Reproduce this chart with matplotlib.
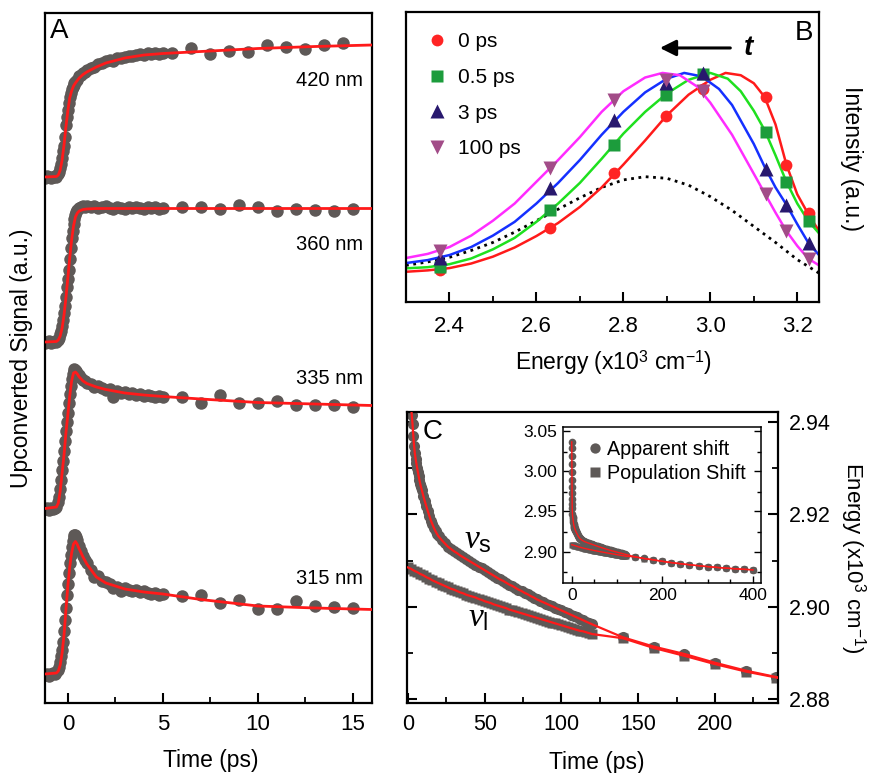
import matplotlib
matplotlib.use("Agg")
import matplotlib.pyplot as plt
from matplotlib.lines import Line2D
from matplotlib.ticker import MultipleLocator, FormatStrFormatter

plt.rcParams['font.family'] = ['Liberation Sans', 'DejaVu Sans']
plt.rcParams['mathtext.fontset'] = 'custom'
plt.rcParams['mathtext.rm'] = 'Liberation Sans'
plt.rcParams['mathtext.it'] = 'Liberation Serif:italic'
plt.rcParams['mathtext.bf'] = 'Liberation Sans:bold'
plt.rcParams['axes.linewidth'] = 1.6

GRAY = '#5e5957'
RED = '#ff1a1a'

# ---------------- panel A: upconversion traces (offset, a.u.) ----------------
t_dense = [-1.2, -1.1, -1.0, -0.9, -0.8, -0.7, -0.6, -0.5, -0.45, -0.4, -0.35, -0.3,
           -0.25, -0.2, -0.15, -0.1, -0.05, 0.0, 0.05, 0.1, 0.15, 0.2, 0.25, 0.3,
           0.35, 0.4, 0.45, 0.5, 0.6, 0.7, 0.8, 0.9, 1.0, 1.2, 1.4, 1.6, 1.8, 2.0,
           2.2, 2.4, 2.6, 2.8, 3.0, 3.2, 3.4, 3.6, 3.8, 4.0, 4.2, 4.4, 4.6, 4.8, 5.0]
sig_420 = [5.25, 5.27, 5.26, 5.25, 5.26, 5.27, 5.26, 5.29, 5.31, 5.35, 5.39, 5.45,
           5.52, 5.57, 5.66, 5.78, 5.86, 5.93, 6.00, 6.06, 6.10, 6.14, 6.16, 6.18,
           6.20, 6.21, 6.22, 6.23, 6.27, 6.28, 6.30, 6.31, 6.33, 6.35, 6.36, 6.39,
           6.40, 6.42, 6.43, 6.42, 6.45, 6.45, 6.46, 6.47, 6.47, 6.48, 6.49, 6.48,
           6.50, 6.49, 6.50, 6.49, 6.50]
sig_360 = [3.60, 3.61, 3.62, 3.60, 3.61, 3.62, 3.61, 3.63, 3.65, 3.69, 3.72, 3.77,
           3.83, 3.90, 3.97, 4.06, 4.16, 4.24, 4.33, 4.44, 4.55, 4.65, 4.72, 4.79,
           4.84, 4.88, 4.91, 4.93, 4.95, 4.96, 4.97, 4.96, 4.97, 4.96, 4.97, 4.95,
           4.96, 4.97, 4.95, 4.94, 4.96, 4.95, 4.94, 4.96, 4.95, 4.96, 4.95, 4.94,
           4.96, 4.95, 4.96, 4.94, 4.95]
sig_335 = [1.94, 1.95, 1.93, 1.95, 1.94, 1.95, 1.96, 2.01, 2.06, 2.14, 2.23, 2.33,
           2.42, 2.52, 2.62, 2.72, 2.81, 2.90, 3.00, 3.09, 3.17, 3.24, 3.29, 3.32,
           3.34, 3.33, 3.32, 3.30, 3.28, 3.25, 3.23, 3.22, 3.20, 3.19, 3.16, 3.17,
           3.15, 3.13, 3.14, 3.06, 3.12, 3.10, 3.11, 3.09, 3.10, 3.08, 3.09, 3.07,
           3.08, 3.07, 3.06, 3.07, 3.06]
sig_315 = [0.28, 0.29, 0.27, 0.29, 0.30, 0.29, 0.31, 0.33, 0.36, 0.41, 0.47, 0.53,
           0.61, 0.72, 0.83, 0.95, 1.08, 1.19, 1.30, 1.40, 1.48, 1.56, 1.62, 1.66,
           1.68, 1.68, 1.66, 1.63, 1.57, 1.52, 1.47, 1.43, 1.40, 1.33, 1.26, 1.27,
           1.22, 1.21, 1.19, 1.15, 1.16, 1.12, 1.15, 1.13, 1.12, 1.13, 1.11, 1.12,
           1.10, 1.09, 1.10, 1.08, 1.09]

t_sparse_420 = [5.5, 6.5, 7.5, 8.5, 9.5, 10.5, 11.5, 12.5, 13.5, 14.5]
t_sparse = [6, 7, 8, 9, 10, 11, 12, 13, 14, 15]
sparse_420 = [6.50, 6.55, 6.49, 6.52, 6.51, 6.58, 6.56, 6.54, 6.58, 6.60]
sparse_360 = [4.96, 4.96, 4.94, 4.98, 4.96, 4.92, 4.94, 4.93, 4.92, 4.94]
sparse_335 = [3.06, 3.00, 3.08, 3.00, 3.00, 3.02, 2.98, 2.98, 2.98, 2.96]
sparse_315 = [1.07, 1.08, 1.00, 1.03, 0.94, 0.94, 1.02, 0.97, 0.96, 0.95]

t_fit = [-1.2, -0.6, -0.5, -0.4, -0.3, -0.2, -0.1, 0.0, 0.1, 0.2, 0.3, 0.4, 0.5,
         0.6, 0.8, 1.0, 1.5, 2.0, 3.0, 4.0, 5.0, 7.0, 10.0, 13.0, 16.0]
fit_420 = [5.26, 5.265, 5.28, 5.33, 5.43, 5.58, 5.76, 5.92, 6.05, 6.12, 6.17, 6.20,
           6.225, 6.25, 6.285, 6.31, 6.36, 6.40, 6.45, 6.48, 6.495, 6.515, 6.545,
           6.565, 6.58]
fit_360 = [3.61, 3.615, 3.63, 3.67, 3.75, 3.88, 4.05, 4.25, 4.45, 4.63, 4.77, 4.86,
           4.90, 4.92, 4.935, 4.94, 4.945, 4.945, 4.945, 4.945, 4.945, 4.945, 4.945,
           4.945, 4.945]
fit_335 = [1.945, 1.96, 2.0, 2.12, 2.30, 2.48, 2.70, 2.88, 3.07, 3.22, 3.30, 3.31,
           3.29, 3.26, 3.22, 3.195, 3.16, 3.135, 3.10, 3.08, 3.065, 3.04, 3.005,
           2.99, 2.975]
fit_315 = [0.29, 0.30, 0.32, 0.38, 0.50, 0.68, 0.93, 1.17, 1.36, 1.50, 1.59, 1.615,
           1.585, 1.54, 1.46, 1.39, 1.26, 1.20, 1.14, 1.11, 1.09, 1.035, 0.97, 0.95,
           0.935]

traces = [
    ('420 nm', sig_420, t_sparse_420, sparse_420, fit_420, 6.22),
    ('360 nm', sig_360, t_sparse, sparse_360, fit_360, 4.58),
    ('335 nm', sig_335, t_sparse, sparse_335, fit_335, 3.25),
    ('315 nm', sig_315, t_sparse, sparse_315, fit_315, 1.24),
]

# ---------------- panel B: spectra ----------------
E_pts = [2.379, 2.632, 2.779, 2.897, 2.984, 3.127, 3.175, 3.227]
I_0ps = [0.140, 0.322, 0.562, 0.812, 0.929, 0.894, 0.598, 0.390]
I_05ps = [0.154, 0.402, 0.686, 0.904, 0.996, 0.744, 0.525, 0.355]
I_3ps = [0.191, 0.496, 0.795, 0.955, 0.999, 0.581, 0.424, 0.256]
I_100ps = [0.224, 0.584, 0.882, 0.969, 0.923, 0.472, 0.310, 0.186]

E_fit_0 = [2.30, 2.35, 2.40, 2.45, 2.50, 2.55, 2.60, 2.65, 2.70, 2.75, 2.80, 2.85,
           2.90, 2.95, 3.00, 3.035, 3.07, 3.10, 3.125, 3.15, 3.175, 3.20, 3.225, 3.25]
F_0 = [0.132, 0.138, 0.148, 0.168, 0.198, 0.238, 0.288, 0.345, 0.415, 0.500, 0.600,
       0.705, 0.815, 0.905, 0.970, 1.000, 0.990, 0.955, 0.895, 0.775, 0.600, 0.470,
       0.385, 0.310]
E_fit_05 = [2.30, 2.35, 2.40, 2.45, 2.50, 2.55, 2.60, 2.65, 2.70, 2.75, 2.80, 2.85,
            2.90, 2.95, 3.00, 3.04, 3.07, 3.10, 3.125, 3.15, 3.175, 3.20, 3.225, 3.25]
F_05 = [0.147, 0.152, 0.165, 0.190, 0.230, 0.280, 0.350, 0.430, 0.520, 0.625, 0.735,
        0.830, 0.910, 0.970, 1.000, 0.975, 0.920, 0.835, 0.750, 0.640, 0.525, 0.430,
        0.355, 0.300]
E_fit_3 = [2.30, 2.35, 2.40, 2.45, 2.50, 2.55, 2.60, 2.65, 2.70, 2.75, 2.80, 2.85,
           2.90, 2.94, 2.98, 3.02, 3.05, 3.10, 3.125, 3.15, 3.175, 3.20, 3.225, 3.25]
F_3 = [0.170, 0.183, 0.205, 0.240, 0.290, 0.350, 0.430, 0.520, 0.620, 0.730, 0.830,
       0.915, 0.975, 1.000, 0.985, 0.930, 0.860, 0.690, 0.590, 0.500, 0.425, 0.340,
       0.260, 0.205]
E_fit_100 = [2.30, 2.35, 2.40, 2.45, 2.50, 2.55, 2.60, 2.65, 2.70, 2.75, 2.80, 2.85,
             2.89, 2.93, 2.97, 3.00, 3.05, 3.10, 3.125, 3.15, 3.175, 3.20, 3.225, 3.25]
F_100 = [0.192, 0.210, 0.240, 0.290, 0.355, 0.430, 0.525, 0.620, 0.720, 0.830, 0.920,
         0.980, 1.000, 0.990, 0.940, 0.870, 0.730, 0.560, 0.475, 0.390, 0.310, 0.245,
         0.190, 0.160]
E_fit_dot = [2.30, 2.35, 2.40, 2.45, 2.50, 2.55, 2.60, 2.65, 2.70, 2.75, 2.80, 2.85,
             2.90, 2.95, 3.00, 3.05, 3.10, 3.15, 3.20, 3.25]
F_dot = [0.160, 0.175, 0.195, 0.225, 0.260, 0.305, 0.355, 0.405, 0.455, 0.500, 0.533,
         0.547, 0.540, 0.510, 0.460, 0.400, 0.330, 0.260, 0.185, 0.126]

spectra = [
    ('0 ps', I_0ps, E_fit_0, F_0, 'o', '#ff2424', '#ff1a1a', 8.5),
    ('0.5 ps', I_05ps, E_fit_05, F_05, 's', '#1c9c3c', '#1fe01f', 8),
    ('3 ps', I_3ps, E_fit_3, F_3, '^', '#28186e', '#1530ff', 10),
    ('100 ps', I_100ps, E_fit_100, F_100, 'v', '#a24c88', '#ff2cff', 10),
]

# ---------------- panel C: spectral shift ----------------
t_app = [0, 0.1, 0.2, 0.3, 0.4, 0.5, 0.6, 0.7, 0.8, 0.9, 1.0, 1.5, 2.0, 2.5, 3.0,
         3.5, 4.0, 4.5, 5.0, 5.5, 6.0, 6.5, 7.0, 7.5, 8.0, 8.5, 9, 10, 11, 12, 13,
         14, 15, 16, 17, 18, 19, 20, 22, 24, 26, 28, 30, 32, 34, 36, 38, 40, 42, 44,
         46, 48, 50, 52, 54, 56, 58, 60, 62, 64, 66, 68, 70, 72, 74, 76, 78, 80, 82,
         84, 86, 88, 90, 92, 94, 96, 98, 100, 102, 104, 106, 108, 110, 112, 114,
         116, 118, 120, 140, 160, 180, 200, 220, 240, 260, 280, 300, 320, 340, 360,
         380, 400]
E_app = [3.037, 3.029, 3.020, 3.010, 3.000, 2.990, 2.981, 2.973, 2.966, 2.960,
         2.955, 2.947, 2.9435, 2.9415, 2.9395, 2.9370, 2.9348, 2.9332, 2.9320,
         2.9310, 2.9300, 2.9291, 2.9282, 2.9274, 2.9266, 2.9259, 2.9253, 2.9240,
         2.9228, 2.9217, 2.9206, 2.9196, 2.9186, 2.9178, 2.9170, 2.9163, 2.9157,
         2.9152, 2.9144, 2.9137, 2.9130, 2.9125, 2.9120, 2.9116, 2.9111, 2.9107,
         2.9103, 2.9099, 2.9095, 2.9091, 2.9087, 2.9083, 2.9079, 2.9075, 2.9071,
         2.9067, 2.9063, 2.9059, 2.9056, 2.9052, 2.9048, 2.9045, 2.9041, 2.9037,
         2.9034, 2.9030, 2.9027, 2.9023, 2.9020, 2.9016, 2.9013, 2.9010, 2.9007,
         2.9004, 2.9001, 2.8998, 2.8995, 2.8992, 2.8989, 2.8986, 2.8983, 2.8980,
         2.8977, 2.8974, 2.8971, 2.8968, 2.8965, 2.8962, 2.8934, 2.8914, 2.8898,
         2.8879, 2.8862, 2.8848, 2.8835, 2.8823, 2.8812, 2.8802, 2.8793, 2.8785,
         2.8778, 2.8772]
t_pop = [0, 2, 4, 6, 8, 10, 12, 14, 16, 18, 20, 22, 24, 26, 28, 30, 32, 34, 36, 38,
         40, 42, 44, 46, 48, 50, 52, 54, 56, 58, 60, 62, 64, 66, 68, 70, 72, 74, 76,
         78, 80, 82, 84, 86, 88, 90, 92, 94, 96, 98, 100, 102, 104, 106, 108, 110,
         112, 114, 116, 118, 120, 140, 160, 180, 200, 220, 240, 260, 280, 300, 320,
         340, 360, 380, 400]
E_pop = [2.9085, 2.9082, 2.9078, 2.9075, 2.9071, 2.9068, 2.9064, 2.9061, 2.9057,
         2.9054, 2.9051, 2.9048, 2.9045, 2.9042, 2.9039, 2.9037, 2.9034, 2.9031,
         2.9029, 2.9026, 2.9024, 2.9022, 2.9020, 2.9017, 2.9015, 2.9012, 2.9010,
         2.9008, 2.9005, 2.9003, 2.9001, 2.8999, 2.8997, 2.8994, 2.8992, 2.8990,
         2.8988, 2.8986, 2.8984, 2.8982, 2.8980, 2.8978, 2.8976, 2.8974, 2.8972,
         2.8970, 2.8968, 2.8966, 2.8964, 2.8962, 2.8960, 2.8958, 2.8956, 2.8954,
         2.8952, 2.8950, 2.8948, 2.8947, 2.8945, 2.8943, 2.8941, 2.8932, 2.8911,
         2.8894, 2.8876, 2.8860, 2.8847, 2.8834, 2.8822, 2.8811, 2.8801, 2.8792,
         2.8784, 2.8777, 2.8771]

W, H = 869, 773


def box(left, top, right, bottom):
    return [left / W, 1 - bottom / H, (right - left) / W, (bottom - top) / H]


def style_ticks(ax, size, pad):
    ax.tick_params(which='both', direction='in', labelsize=size, pad=pad)
    ax.tick_params(which='major', length=7, width=1.5)
    ax.tick_params(which='minor', length=4, width=1.3)


fig = plt.figure(figsize=(W / 100, H / 100), dpi=100)

# ---- A ----
axA = fig.add_axes(box(45, 13, 372, 703))
for name, sig, ts, sp, fit, ylab in traces:
    axA.plot(t_dense, sig, 'o', color=GRAY, ms=9, mec='none', zorder=2)
    axA.plot(ts, sp, 'o', color=GRAY, ms=9, mec='none', zorder=2)
    axA.plot(t_fit, fit, '-', color=RED, lw=2, zorder=3)
    axA.text(15.55, ylab, name, ha='right', va='center', fontsize=14.5)
axA.set_xlim(-1.2, 16)
axA.set_ylim(0, 6.9)
axA.set_yticks([])
axA.xaxis.set_major_locator(MultipleLocator(5))
axA.xaxis.set_minor_locator(MultipleLocator(2.5))
style_ticks(axA, 16, 8)
fig.text(50 / W, 1 - 31.5 / H, 'A', fontsize=20, ha='left', va='center')
fig.text(211 / W, 1 - 760 / H, 'Time (ps)', fontsize=16.5, ha='center', va='center')
fig.text(22 / W, 1 - 358 / H, 'Upconverted Signal (a.u.)', fontsize=16.5,
         rotation=90, ha='center', va='center')

# ---- B ----
axB = fig.add_axes(box(406, 12, 819, 302))
axB.plot(E_fit_dot, F_dot, ':', color='black', lw=2, zorder=2)
handles = []
for name, pts, ef, ff, mk, mc, lc, ms in spectra:
    axB.plot(ef, ff, '-', color=lc, lw=1.8, zorder=2)
    axB.plot(E_pts, pts, mk, color=mc, ms=ms, mec='none', zorder=3)
    handles.append(Line2D([], [], ls='none', marker=mk, color=mc, ms=ms, mec='none'))
axB.set_xlim(2.3, 3.25)
axB.set_ylim(0, 1.266)
axB.set_yticks([])
axB.xaxis.set_major_locator(MultipleLocator(0.2))
axB.xaxis.set_minor_locator(MultipleLocator(0.1))
axB.xaxis.set_major_formatter(FormatStrFormatter('%.1f'))
style_ticks(axB, 16, 10)
axB.legend(handles, [s[0] for s in spectra], loc='upper left',
           bbox_to_anchor=(0.05, 0.93), frameon=False, fontsize=15,
           handlelength=1.0, handletextpad=0.5, labelspacing=0.8,
           borderaxespad=0, borderpad=0)
axB.annotate('', xy=(2.884, 1.109), xytext=(3.046, 1.109),
             arrowprops=dict(arrowstyle='-|>', color='black', lw=2.2,
                             mutation_scale=24, shrinkA=0, shrinkB=0))
axB.text(3.087, 1.109, 't', fontsize=20, fontweight='bold', style='italic',
         ha='center', va='center')
fig.text(813 / W, 1 - 33 / H, 'B', fontsize=20, ha='right', va='center')
fig.text(613 / W, 1 - 363 / H, 'Energy (x10$^{3}$ cm$^{-1}$)', fontsize=16.5,
         ha='center', va='center')
fig.text(852 / W, 1 - 158 / H, 'Intensity (a.u.)', fontsize=16.5, rotation=-90,
         ha='center', va='center')

# ---- C ----
axC = fig.add_axes(box(407, 412, 778, 703))
axC.plot(t_pop, E_pop, 's', color=GRAY, ms=7, mec='none', zorder=2)
axC.plot(t_app, E_app, 'o', color=GRAY, ms=8, mec='none', zorder=2)
axC.plot(t_app, E_app, '-', color=RED, lw=1.6, zorder=3)
axC.plot(t_pop, E_pop, '-', color=RED, lw=1.6, zorder=3)
axC.set_xlim(-0.6, 241)
axC.set_ylim(2.8792, 2.9421)
axC.xaxis.set_major_locator(MultipleLocator(50))
axC.xaxis.set_minor_locator(MultipleLocator(25))
axC.yaxis.set_major_locator(MultipleLocator(0.02))
axC.yaxis.set_minor_locator(MultipleLocator(0.01))
axC.yaxis.set_major_formatter(FormatStrFormatter('%.2f'))
style_ticks(axC, 15.5, 8)
axC.tick_params(axis='y', which='both', left=True, right=True,
                labelleft=False, labelright=True)
axC.text(45.5, 2.9144, r'$\mathit{\nu}_{\mathrm{s}}$', fontsize=24,
         ha='center', va='center')
axC.text(45.5, 2.8976, r'$\mathit{\nu}_{\mathrm{l}}$', fontsize=24,
         ha='center', va='center')
fig.text(423 / W, 1 - 431.7 / H, 'C', fontsize=20, ha='left', va='center')
fig.text(597 / W, 1 - 762 / H, 'Time (ps)', fontsize=16.5, ha='center', va='center')
fig.text(853 / W, 1 - 558 / H, 'Energy (x10$^{3}$ cm$^{-1}$)', fontsize=16,
         rotation=-90, ha='center', va='center')

# ---- inset ----
axI = fig.add_axes(box(562.7, 426.7, 761, 582.7))
axI.plot(t_app, E_app, 'o', color=GRAY, ms=5.5, mec='none', zorder=2,
         label='Apparent shift')
axI.plot(t_pop, E_pop, 's', color=GRAY, ms=5, mec='none', zorder=2,
         label='Population Shift')
axI.plot(t_app, E_app, '-', color=RED, lw=1, zorder=3)
axI.plot(t_pop, E_pop, '-', color=RED, lw=1, zorder=3)
axI.set_xlim(-20, 418)
axI.set_ylim(2.861, 3.056)
axI.xaxis.set_major_locator(MultipleLocator(200))
axI.xaxis.set_minor_locator(MultipleLocator(50))
axI.yaxis.set_major_locator(MultipleLocator(0.05))
axI.yaxis.set_minor_locator(MultipleLocator(0.025))
axI.yaxis.set_major_formatter(FormatStrFormatter('%.2f'))
for s in axI.spines.values():
    s.set_linewidth(1.1)
axI.tick_params(which='both', direction='in', labelsize=12.5, pad=4,
                right=True, width=1)
axI.tick_params(which='major', length=5)
axI.tick_params(which='minor', length=3)
axI.legend(loc='upper left', bbox_to_anchor=(0.131, 0.917), frameon=False,
           fontsize=14.2, handlelength=0.6, handletextpad=0.35, labelspacing=0.25,
           borderaxespad=0, borderpad=0, markerscale=1.35)

fig.savefig('out.png', dpi=100)
